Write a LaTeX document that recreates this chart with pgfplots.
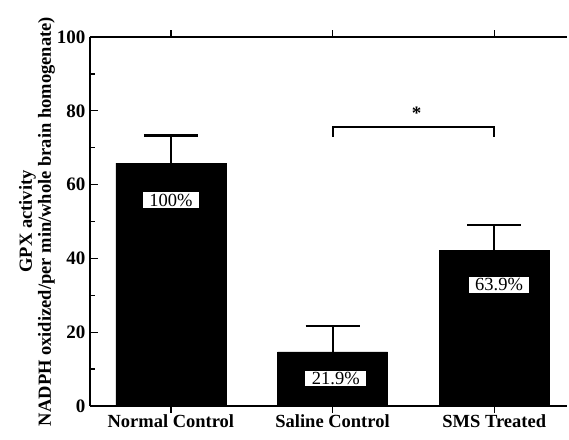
\documentclass[border=0pt]{standalone}
\usepackage{pgfplots}
\pgfplotsset{compat=1.18}
\usepackage{fontspec}
\setmainfont{Liberation Serif}
\begin{document}
\begin{tikzpicture}
\useasboundingbox (-90pt,-33pt) rectangle (479pt,406pt);
\begin{axis}[
  at={(0pt,0pt)}, anchor=south west,
  scale only axis, width=477pt, height=369pt,
  xmin=-0.5, xmax=2.45, ymin=0, ymax=100,
  axis x line*=box, axis y line*=left,
  axis line style={line width=2pt},
  ybar, bar width=0.68,
  xtick={0,1,2},
  xticklabels={Normal Control,Saline Control,SMS Treated},
  ytick={0,20,40,60,80,100},
  minor y tick num=1,
  tick align=inside,
  major tick length=8pt, minor tick length=5pt,
  tick style={line width=1.4pt, black},
  xtick style={/pgfplots/major tick length=-7pt},
  /pgf/number format/assume math mode=true,
  yticklabel style={font=\bfseries\fontsize{19}{19}\selectfont, xshift=-1pt},
  xticklabel style={font=\bfseries\fontsize{18.5}{18.5}\selectfont, yshift=-5pt},
  ylabel={GPX activity\\NADPH oxidized/per min/whole brain homogenate)},
  ylabel style={font=\bfseries\fontsize{18.5}{19}\selectfont, align=center,
    at={(axis description cs:-0.111,0.5)}, anchor=center, rotate=0},
]
\addplot[fill=black, draw=black,
  error bars/.cd, y dir=plus, y explicit,
  error bar style={line width=2pt, black},
  error mark options={rotate=90, mark size=27pt, line width=2.4pt, black}]
  coordinates {(0,65.8) +- (0,7.5) (1,14.7) +- (0,7.0) (2,42.1) +- (0,7.0)};
\addplot[sharp plot, line width=2pt, black, mark=none]
  coordinates {(1,72.9) (1,75.5) (2,75.5) (2,72.9)};
\node[font=\bfseries\fontsize{19}{19}\selectfont] at (axis cs:1.52,79.3) {*};
\node[fill=white, inner xsep=6.5pt, inner ysep=1.5pt, font=\fontsize{18.5}{18.5}\selectfont] at (axis cs:0,55.8) {100\%};
\node[fill=white, inner xsep=6.5pt, inner ysep=1.5pt, font=\fontsize{18.5}{18.5}\selectfont] at (axis cs:1.02,7.4) {21.9\%};
\node[fill=white, inner xsep=6.5pt, inner ysep=1.5pt, font=\fontsize{18.5}{18.5}\selectfont] at (axis cs:2.03,32.8) {63.9\%};
\end{axis}
\end{tikzpicture}
\end{document}
